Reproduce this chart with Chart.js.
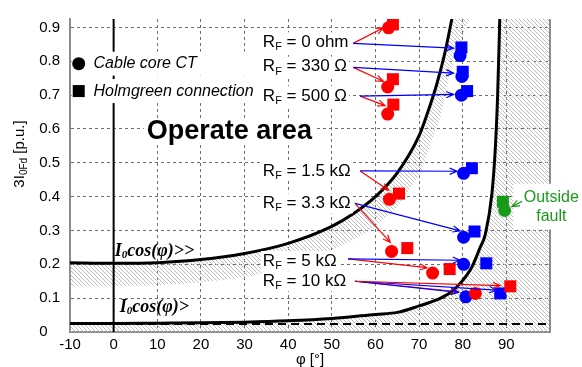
<!DOCTYPE html>
<html>
<head>
<meta charset="utf-8">
<script src="https://cdn.jsdelivr.net/npm/chart.js@4.4.0/dist/chart.umd.min.js"></script>
<style>
    html, body { margin: 0; padding: 0; background: #fff; }
    canvas { display: block; }
</style>
</head>
<body>
<canvas id="chart" width="582" height="367"></canvas>
<script>
// axis ticks
const phiTicks = [-10, 0, 10, 20, 30, 40, 50, 60, 70, 80, 90, 100];
const valueTicks = [0, 0.1, 0.2, 0.3, 0.4, 0.5, 0.6, 0.7, 0.8, 0.9];

// I0cos(phi)>> characteristic and lower edge of its hatched band
const highPhi = [-10, 0, 10, 20, 30, 40, 50, 55, 60, 65, 70, 72, 74, 76, 77.5, 78];
const highVal = [0.205, 0.203, 0.205, 0.214, 0.232, 0.262, 0.312, 0.35, 0.4, 0.47, 0.58, 0.65, 0.73, 0.83, 0.925, 0.96];
const bandPhi = [-10, 0, 10, 20, 30, 36, 45, 54, 60, 65, 70, 72, 75, 77, 79, 80.5, 81.7];
const bandVal = [0.135, 0.135, 0.138, 0.146, 0.162, 0.178, 0.215, 0.265, 0.31, 0.37, 0.46, 0.53, 0.64, 0.76, 0.84, 0.89, 0.93];

// I0cos(phi)> characteristic and its dashed base level
const lowPhi = [-10, 0, 10, 20, 30, 40, 50, 60, 65, 70, 74, 77, 79.5, 82, 84, 85.2, 86.7, 87.5, 88, 88.5];
const lowVal = [0.025, 0.025, 0.026, 0.027, 0.029, 0.033, 0.04, 0.052, 0.058, 0.077, 0.095, 0.115, 0.145, 0.19, 0.25, 0.29, 0.41, 0.55, 0.7, 0.93];
const dashPhi = [-10, 100];
const dashVal = [0.024, 0.024];

// measured points, one per fault resistance
const rfNames = ["0 ohm", "330 Ω", "500 Ω", "1.5 kΩ", "3.3 kΩ", "5 kΩ", "10 kΩ"];
const redCorePhi = [63.0, 62.8, 62.8, 63.2, 63.7, 73.1, 82.9];
const redCoreVal = [0.899, 0.724, 0.644, 0.392, 0.238, 0.174, 0.114];
const redHolmPhi = [64.0, 64.0, 64.1, 65.4, 67.3, 77.0, 90.9];
const redHolmVal = [0.909, 0.747, 0.672, 0.409, 0.248, 0.186, 0.135];
const blueCorePhi = [79.4, 79.8, 79.7, 80.2, 80.2, 80.2, 80.7];
const blueCoreVal = [0.817, 0.755, 0.700, 0.469, 0.280, 0.200, 0.104];
const blueHolmPhi = [79.7, 80.0, 81.0, 82.1, 82.7, 85.4, 88.6];
const blueHolmVal = [0.841, 0.769, 0.712, 0.484, 0.297, 0.203, 0.114];
const outCorePhi = [89.6];
const outCoreVal = [0.359];
const outHolmPhi = [89.2];
const outHolmVal = [0.385];

const SANS = "'Liberation Sans', Arial, sans-serif";
const SERIF = "'Liberation Serif', 'Times New Roman', serif";
const RED = "#ff0000";
const BLUE = "#0000ff";
const GREEN = "#1a9a1a";

const pts = (xs, ys) => xs.map((x, i) => ({ x, y: ys[i] }));

function hatchPattern(ctx) {
    const c = document.createElement("canvas");
    c.width = 4;
    c.height = 4;
    const g = c.getContext("2d");
    g.strokeStyle = "#bdbdbd";
    g.lineWidth = 1;
    g.beginPath();
    g.moveTo(0, 0); g.lineTo(4, 4);
    g.moveTo(-1, 3); g.lineTo(1, 5);
    g.moveTo(3, -1); g.lineTo(5, 1);
    g.stroke();
    return ctx.createPattern(c, "repeat");
}

// annotation layout (data coordinates)
const rfLabelPhi = 34.2;
const rfLabelVal = [0.856, 0.784, 0.697, 0.476, 0.380, 0.210, 0.150];
const rfArrows = [
    [[54.9, 0.853, 61.8, 0.899, RED], [54.9, 0.853, 77.9, 0.839, BLUE]],
    [[54.9, 0.782, 61.8, 0.741, RED], [54.9, 0.782, 77.9, 0.765, BLUE]],
    [[56.5, 0.697, 62.2, 0.669, RED], [56.5, 0.697, 77.9, 0.702, BLUE]],
    [[56.5, 0.476, 63.0, 0.419, RED], [56.5, 0.476, 78.7, 0.475, BLUE]],
    [[55.3, 0.380, 63.4, 0.265, RED], [55.3, 0.380, 79.4, 0.299, BLUE]],
    [[53.7, 0.216, 71.8, 0.190, RED], [53.7, 0.216, 79.4, 0.212, BLUE]],
    [[55.3, 0.150, 79.0, 0.119, RED], [55.3, 0.150, 79.0, 0.117, BLUE],
     [55.3, 0.150, 87.8, 0.124, BLUE], [55.3, 0.150, 88.6, 0.137, RED]],
];

function textRuns(ctx, parts, x, yc, pad, h) {
    let w = 0;
    for (const p of parts) {
        ctx.font = p.font;
        w += ctx.measureText(p.text).width;
    }
    if (pad !== undefined) {
        ctx.fillStyle = "#fff";
        ctx.fillRect(x - pad, yc - h / 2, w + 2 * pad, h);
    }
    ctx.textAlign = "left";
    ctx.textBaseline = "middle";
    let cx = x;
    for (const p of parts) {
        ctx.font = p.font;
        ctx.fillStyle = p.color || "#000";
        ctx.fillText(p.text, cx, yc + (p.dy || 0));
        cx += ctx.measureText(p.text).width;
    }
    return w;
}

function arrow(ctx, x1, y1, x2, y2, color) {
    const ang = Math.atan2(y2 - y1, x2 - x1);
    ctx.strokeStyle = color;
    ctx.lineWidth = 1.2;
    ctx.beginPath();
    ctx.moveTo(x1, y1);
    ctx.lineTo(x2, y2);
    ctx.moveTo(x2 - 8 * Math.cos(ang - 0.4), y2 - 8 * Math.sin(ang - 0.4));
    ctx.lineTo(x2, y2);
    ctx.lineTo(x2 - 8 * Math.cos(ang + 0.4), y2 - 8 * Math.sin(ang + 0.4));
    ctx.stroke();
}

const overlay = {
    id: "overlay",
    afterDatasetsDraw(chart) {
        const { ctx, chartArea: a, scales } = chart;
        const X = (v) => scales.x.getPixelForValue(v);
        const Y = (v) => scales.y.getPixelForValue(v);
        ctx.save();

        // right frame
        ctx.strokeStyle = "#8c8c8c";
        ctx.lineWidth = 2;
        ctx.beginPath();
        ctx.moveTo(a.right, a.top);
        ctx.lineTo(a.right, a.bottom);
        ctx.stroke();

        // legend
        const legX = X(-8.0);
        const legText = X(-4.6);
        ctx.fillStyle = "#fff";
        ctx.fillRect(legX - 7, Y(0.793) - 12, 190, 24);
        ctx.fillRect(legX - 7, Y(0.712) - 12, 190, 24);
        ctx.fillStyle = "#000";
        ctx.beginPath();
        ctx.arc(legX, Y(0.793), 6.5, 0, Math.PI * 2);
        ctx.fill();
        ctx.fillRect(legX - 6, Y(0.712) - 6, 12, 12);
        textRuns(ctx, [{ text: "Cable core CT", font: "italic 16px " + SANS }], legText, Y(0.793));
        textRuns(ctx, [{ text: "Holmgreen connection", font: "italic 16px " + SANS }], legText, Y(0.712));

        // operate area
        textRuns(ctx, [{ text: "Operate area", font: "bold 27px " + SANS }], X(7.6), Y(0.591), 3, 26);

        // characteristic names
        textRuns(ctx, [
            { text: "I", font: "bold italic 18px " + SERIF },
            { text: "0", font: "bold italic 11px " + SERIF, dy: 4 },
            { text: "cos(φ)>>", font: "bold italic 18px " + SERIF },
        ], X(0.23), Y(0.239));
        textRuns(ctx, [
            { text: "I", font: "bold italic 18px " + SERIF },
            { text: "0", font: "bold italic 11px " + SERIF, dy: 4 },
            { text: "cos(φ)>", font: "bold italic 18px " + SERIF },
        ], X(1.38), Y(0.072));

        // outside fault
        ctx.fillStyle = "#fff";
        ctx.fillRect(X(91.6), Y(0.438), chart.width - X(91.6), Y(0.303) - Y(0.438));
        ctx.font = "16px " + SANS;
        ctx.fillStyle = GREEN;
        ctx.textAlign = "center";
        ctx.textBaseline = "middle";
        ctx.fillText("Outside", X(100.3), Y(0.398));
        ctx.fillText("fault", X(100.3), Y(0.340));
        arrow(ctx, X(93.6), Y(0.386), X(91.3), Y(0.371), GREEN);

        // fault resistance labels and arrows
        rfNames.forEach((name, i) => {
            textRuns(ctx, [
                { text: "R", font: "17px " + SANS },
                { text: "F", font: "11px " + SANS, dy: 5 },
                { text: " = " + name, font: "17px " + SANS },
            ], X(rfLabelPhi), Y(rfLabelVal[i]), 2, 20);
            for (const [p1, v1, p2, v2, c] of rfArrows[i]) {
                arrow(ctx, X(p1), Y(v1), X(p2), Y(v2), c);
            }
        });

        // axis titles
        ctx.fillStyle = "#000";
        ctx.font = "15px " + SANS;
        ctx.textAlign = "center";
        ctx.textBaseline = "middle";
        ctx.fillText("φ [°]", (a.left + a.right) / 2, 360);
        ctx.translate(20, 154);
        ctx.rotate(-Math.PI / 2);
        const parts = [
            { text: "3I", font: "15px " + SANS },
            { text: "0Fd", font: "10px " + SANS, dy: 4 },
            { text: " [p.u.]", font: "15px " + SANS },
        ];
        let w = 0;
        for (const p of parts) { ctx.font = p.font; w += ctx.measureText(p.text).width; }
        textRuns(ctx, parts, -w / 2, 0);
        ctx.restore();
    },
};

const ctx = document.getElementById("chart").getContext("2d");
const hatch = hatchPattern(ctx);

const marker = (data, color, style, radius) => ({
    data,
    showLine: false,
    pointStyle: style,
    pointRadius: radius,
    pointBackgroundColor: color,
    pointBorderWidth: 0,
    order: style === "circle" ? 0 : 1,
});

const curve = (data, extra) => ({
    data,
    showLine: true,
    borderColor: "#000",
    borderWidth: 3,
    pointRadius: 0,
    fill: false,
    order: 5,
    ...extra,
});

new Chart(ctx, {
    type: "line",
    data: {
        datasets: [
            marker(pts(redCorePhi, redCoreVal), RED, "circle", 6.5),
            marker(pts(blueCorePhi, blueCoreVal), BLUE, "circle", 6.5),
            marker(pts(outCorePhi, outCoreVal), GREEN, "circle", 6.5),
            marker(pts(redHolmPhi, redHolmVal), RED, "rect", 8.5),
            marker(pts(blueHolmPhi, blueHolmVal), BLUE, "rect", 8.5),
            marker(pts(outHolmPhi, outHolmVal), GREEN, "rect", 8.5),
            curve(pts(highPhi, highVal), { cubicInterpolationMode: "monotone" }),
            curve(pts(lowPhi, lowVal), { cubicInterpolationMode: "monotone" }),
            curve(pts(dashPhi, dashVal), { borderWidth: 2, borderDash: [8, 5] }),
            curve([{ x: 0, y: 0 }, { x: 0, y: 0.925 }], { borderWidth: 2 }),
            {
                data: pts(highPhi, highVal).concat(pts(bandPhi, bandVal).reverse()),
                showLine: true,
                borderWidth: 0,
                pointRadius: 0,
                backgroundColor: hatch,
                fill: "shape",
                order: 9,
            },
            {
                data: [{ x: -10, y: 0 }, ...pts(lowPhi, lowVal), { x: 100, y: 0.93 }, { x: 100, y: 0 }],
                showLine: true,
                borderWidth: 0,
                pointRadius: 0,
                backgroundColor: hatch,
                fill: "shape",
                order: 9,
            },
        ],
    },
    options: {
        responsive: false,
        animation: false,
        layout: { padding: { top: 11, right: 32, left: 0, bottom: 0 } },
        plugins: {
            legend: { display: false },
            tooltip: { enabled: false },
        },
        scales: {
            x: {
                type: "linear",
                min: -10,
                max: 100,
                afterBuildTicks: (s) => { s.ticks = phiTicks.map((v) => ({ value: v })); },
                afterFit: (s) => { s.height = 35; },
                grid: { color: "#6e6e6e", lineWidth: 1, drawTicks: false },
                border: { display: true, color: "#8c8c8c", width: 2, dash: [3, 3] },
                ticks: {
                    color: "#000",
                    font: { family: SANS, size: 15 },
                    padding: 4,
                    maxRotation: 0,
                    autoSkip: false,
                    callback: (v) => (v === 100 ? "" : String(v)),
                },
            },
            y: {
                type: "linear",
                min: 0,
                max: 0.925,
                afterBuildTicks: (s) => { s.ticks = valueTicks.map((v) => ({ value: v })); },
                afterFit: (s) => { s.width = 70; },
                grid: { color: "#6e6e6e", lineWidth: 1, drawTicks: false },
                border: { display: true, color: "#8c8c8c", width: 2, dash: [3, 3] },
                ticks: {
                    color: "#000",
                    font: { family: SANS, size: 15 },
                    padding: 10,
                    callback: (v) => (v === 0 ? "0   " : v.toFixed(1)),
                },
            },
        },
    },
    plugins: [overlay],
});
</script>
</body>
</html>
